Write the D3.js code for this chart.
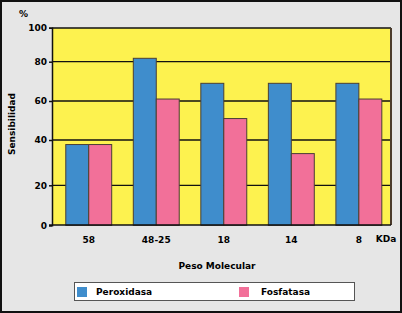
<!DOCTYPE html>
<html>
<head>
<meta charset="utf-8">
<script src="https://cdn.jsdelivr.net/npm/d3@7"></script>
<style>
    body { margin: 0; background: #fff; }
    svg text { font-family: "DejaVu Sans", Verdana, sans-serif; font-weight: bold; font-size: 9px; fill: #000; }
</style>
</head>
<body>
<svg id="chart" width="402" height="313"></svg>
<script>
let categories = ["58", "48-25", "18", "14", "8"];
let seriesNames = ["Peroxidasa", "Fosfatasa"];
let peroxidasa = [38, 82, 69, 69, 69];
let fosfatasa = [38, 61, 51, 34, 61];
let yTicks = [0, 20, 40, 60, 80, 100];

let colors = {"Peroxidasa": "#3f8dcc", "Fosfatasa": "#f27099"};

let svg = d3.select("#chart");
let pl = 52, pr = 391, pt = 28, pb = 225;

// background + outer border
svg.append("rect")
    .attr("x", 1).attr("y", 1)
    .attr("width", 400).attr("height", 311)
    .style("fill", "#e6e6e6")
    .style("stroke", "#111")
    .style("stroke-width", 2);

// the printed grid is not evenly spaced, so map tick to tick
let y = d3.scaleLinear()
    .domain(yTicks)
    .range([225.3, 185.3, 140, 101, 61.7, 27.7]);

let x = d3.scaleBand()
    .domain(categories)
    .range([pl, pr])
    .paddingInner(0.32)
    .paddingOuter(0.17)
    .align(0.6);

let xs = d3.scaleBand()
    .domain(seriesNames)
    .range([0, x.bandwidth()]);

svg.append("rect")
    .attr("x", pl).attr("y", pt)
    .attr("width", pr - pl).attr("height", pb - pt)
    .style("fill", "#fdf24f");

// grid lines
svg.append("g")
    .selectAll("line")
    .data(yTicks.slice(1, -1))
    .enter()
    .append("line")
    .attr("x1", pl).attr("x2", pr)
    .attr("y1", (d) => y(d)).attr("y2", (d) => y(d))
    .style("stroke", "#111")
    .style("stroke-width", 1.3);

// bars
let rows = categories.map((c, i) => ({cat: c, values: [
    {key: "Peroxidasa", value: peroxidasa[i]},
    {key: "Fosfatasa", value: fosfatasa[i]}
]}));

svg.append("g")
    .selectAll("g")
    .data(rows)
    .enter()
    .append("g")
    .attr("transform", (d) => "translate(" + x(d.cat) + ",0)")
    .selectAll("rect")
    .data((d) => d.values)
    .enter()
    .append("rect")
    .attr("x", (d) => xs(d.key))
    .attr("y", (d) => y(d.value))
    .attr("width", xs.bandwidth())
    .attr("height", (d) => y(0) - y(d.value))
    .style("fill", (d) => colors[d.key])
    .style("stroke", "#4a3f35")
    .style("stroke-width", 1);

// frame
svg.append("line")
    .attr("x1", pl).attr("x2", pr).attr("y1", pt).attr("y2", pt)
    .style("stroke", "#111").style("stroke-width", 1.5);
svg.append("line")
    .attr("x1", pr).attr("x2", pr).attr("y1", pt).attr("y2", pb)
    .style("stroke", "#4a3a2a").style("stroke-width", 2);

// y axis
let yAxis = svg.append("g")
    .attr("transform", "translate(" + pl + ",0)")
    .call(d3.axisLeft(y).tickValues(yTicks).tickSize(3).tickPadding(2));
yAxis.selectAll("path, line").style("stroke", "#111").style("stroke-width", 1.5);

// x axis line
svg.append("line")
    .attr("x1", pl - 3).attr("x2", pr).attr("y1", pb).attr("y2", pb)
    .style("stroke", "#111").style("stroke-width", 1.5);

svg.append("g")
    .selectAll("text")
    .data(categories)
    .enter()
    .append("text")
    .attr("x", (d) => x(d) + x.bandwidth() / 2)
    .attr("y", 243)
    .attr("text-anchor", "middle")
    .text((d) => d);

svg.append("text").attr("x", 386).attr("y", 242).attr("text-anchor", "middle").text("KDa");
svg.append("text").attr("x", 19).attr("y", 17).text("%");
svg.append("text").attr("x", 217).attr("y", 269).attr("text-anchor", "middle").text("Peso Molecular");
svg.append("text")
    .attr("transform", "translate(15,124) rotate(-90)")
    .attr("text-anchor", "middle")
    .text("Sensibilidad");

// legend
let legend = svg.append("g");
legend.append("rect")
    .attr("x", 74.5).attr("y", 282.5)
    .attr("width", 280).attr("height", 18)
    .style("fill", "#fff")
    .style("stroke", "#555")
    .style("stroke-width", 1);

let lx = [77, 239];
let items = legend.selectAll("g.item")
    .data(seriesNames)
    .enter()
    .append("g")
    .attr("class", "item")
    .attr("transform", (d, i) => "translate(" + lx[i] + ",0)");
items.append("rect")
    .attr("x", 0).attr("y", 287)
    .attr("width", 10).attr("height", 10)
    .style("fill", (d) => colors[d]);
items.append("text")
    .attr("x", (d, i) => i === 0 ? 19 : 22)
    .attr("y", 295)
    .text((d) => d);
</script>
</body>
</html>
